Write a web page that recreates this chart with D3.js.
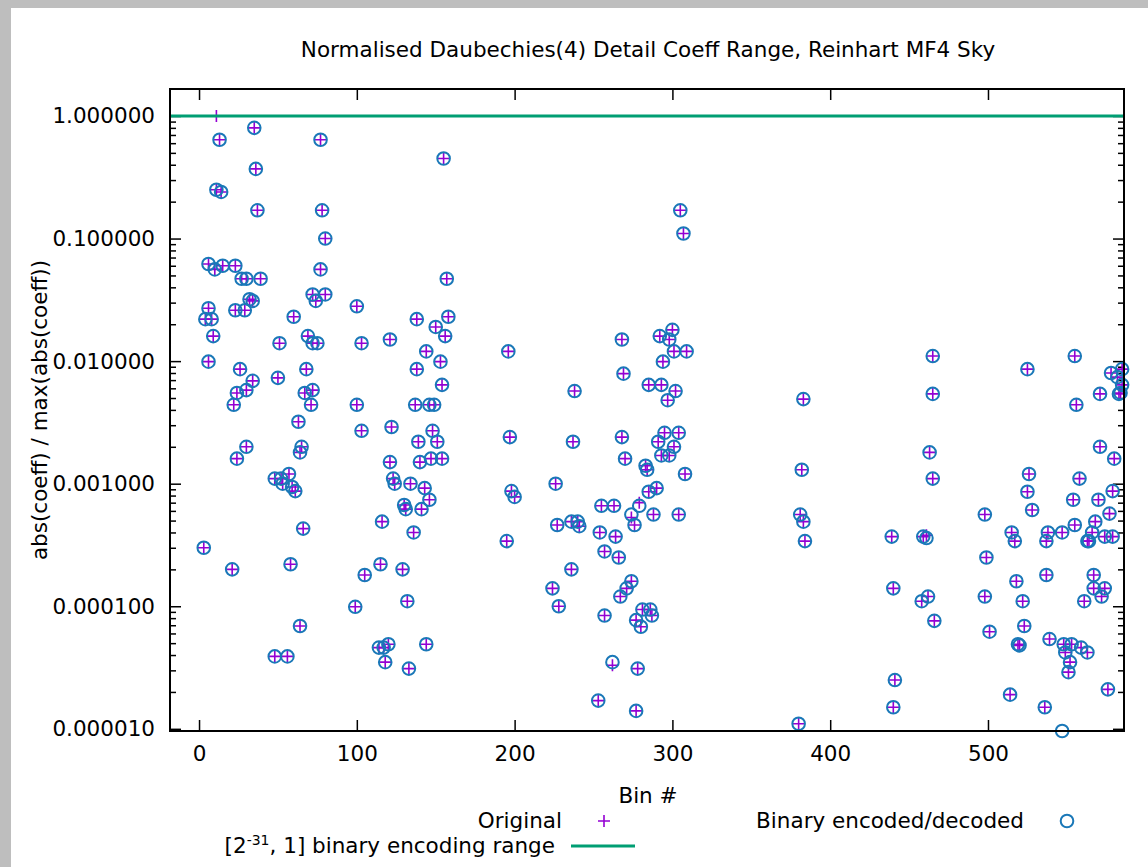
<!DOCTYPE html>
<html>
<head>
<meta charset="utf-8">
<script src="https://d3js.org/d3.v7.min.js"></script>
<style>
  body { margin: 0; background: #bebebe; }
  text { font-family: "DejaVu Sans", sans-serif; fill: #000; }
</style>
</head>
<body>
<svg id="chart" width="1148" height="867"></svg>
<script>
const bins = [
  11, 35, 13, 77, 36, 11, 14, 37, 78, 80, 6, 10, 15, 23, 27, 30, 39, 77, 32, 34,
  72, 74, 80, 6, 23, 29, 60, 4, 8, 9, 51, 69, 72, 75, 6, 26, 50, 68, 34, 24,
  30, 67, 72, 22, 71, 63, 30, 24, 65, 64, 48, 52, 53, 57, 59, 61, 66, 3, 21, 58,
  64, 48, 56,
  100, 155, 157, 158, 138, 150, 156, 103, 121, 144, 153, 138, 154, 100, 137, 146, 149, 103, 122, 148,
  139, 151, 121, 140, 147, 154, 123, 124, 134, 143, 146, 130, 131, 141, 116, 136, 115, 105, 129, 99,
  132, 114, 117, 120, 144, 118, 133,
  196, 197, 198, 200, 195, 305, 307, 300, 268, 292, 298, 301, 309, 294, 269, 285, 293, 302, 238, 297,
  237, 268, 295, 304, 291, 301, 270, 293, 298, 283, 284, 308, 226, 285, 290, 255, 263, 279, 274, 288,
  304, 227, 236, 240, 241, 276, 254, 264, 257, 266, 236, 224, 228, 274, 271, 267, 257, 281, 286, 287,
  277, 280, 262, 278, 253, 277,
  465, 465, 383, 463, 465, 382, 381, 383, 384, 439, 459, 461, 440, 458, 462, 466, 441, 440, 380,
  555, 525, 578, 585, 582, 585, 571, 583, 584, 556, 571, 580, 526, 558, 525, 579, 554, 570, 528, 577,
  498, 568, 555, 515, 517, 538, 537, 547, 566, 563, 564, 574, 579, 499, 537, 567, 518, 567, 574, 572,
  522, 561, 498, 523, 501, 539, 519, 520, 548, 553, 559, 563, 549, 552, 551, 576, 514, 536, 547
];

// abs(coeff)/max(abs(coeff)), original values
const original = [
  1.0, 0.80, 0.64, 0.64, 0.37, 0.25, 0.24, 0.17, 0.17, 0.10, 0.062, 0.056, 0.060, 0.060, 0.047, 0.047, 0.047, 0.056, 0.032, 0.031,
  0.035, 0.031, 0.035, 0.027, 0.026, 0.026, 0.023, 0.022, 0.022, 0.016, 0.014, 0.016, 0.014, 0.014, 0.0099, 0.0086, 0.0073, 0.0086, 0.0069, 0.0055,
  0.0058, 0.0055, 0.0058, 0.0044, 0.0044, 0.0032, 0.0020, 0.0016, 0.0020, 0.0018, 0.0011, 0.0011, 0.0010, 0.0012, 0.00094, 0.00087, 0.00043, 0.00030, 0.00020, 0.00022,
  0.000069, 0.000039, 0.000039,
  0.028, 0.45, 0.047, 0.023, 0.022, 0.019, 0.016, 0.014, 0.015, 0.012, 0.0099, 0.0086, 0.0064, 0.0044, 0.0044, 0.0044, 0.0044, 0.0027, 0.0029, 0.0027,
  0.0022, 0.0022, 0.0015, 0.0015, 0.0016, 0.0016, 0.0011, 0.0010, 0.0010, 0.00092, 0.00074, 0.00067, 0.00062, 0.00062, 0.00049, 0.00040, 0.00022, 0.00018, 0.00020, 0.000099,
  0.00011, 0.000046, 0.000046, 0.000049, 0.000049, 0.000035, 0.000031,
  0.012, 0.0024, 0.00087, 0.00078, 0.00034, 0.17, 0.11, 0.018, 0.015, 0.016, 0.015, 0.012, 0.012, 0.0099, 0.0079, 0.0064, 0.0064, 0.0057, 0.0057, 0.0048,
  0.0022, 0.0024, 0.0026, 0.0026, 0.0022, 0.0020, 0.0016, 0.0017, 0.0017, 0.0014, 0.0013, 0.0012, 0.0010, 0.00086, 0.00092, 0.00066, 0.00066, 0.00070, 0.00053, 0.00056,
  0.00056, 0.00046, 0.00049, 0.00049, 0.00045, 0.00046, 0.00040, 0.00037, 0.00028, 0.00025, 0.00020, 0.00014, 0.00010, 0.00016, 0.00014, 0.00012, 0.000084, 0.000094, 0.000094, 0.000084,
  0.000077, 0.000068, 0.000033, 0.000031, 0.000017, 0.000014,
  0.011, 0.0054, 0.0049, 0.0018, 0.0011, 0.0013, 0.00056, 0.00049, 0.00034, 0.00037, 0.00037, 0.00038, 0.00014, 0.00011, 0.00012, 0.000076, 0.000025, 0.000015, 0.000011,
  0.011, 0.0086, 0.0080, 0.0086, 0.0074, 0.0064, 0.0054, 0.0054, 0.0055, 0.0044, 0.0020, 0.0016, 0.0012, 0.0011, 0.00086, 0.00087, 0.00074, 0.00074, 0.00061, 0.00057,
  0.00056, 0.00049, 0.00046, 0.00040, 0.00034, 0.00040, 0.00034, 0.00040, 0.00040, 0.00034, 0.00034, 0.00037, 0.00037, 0.00025, 0.00018, 0.00018, 0.00016, 0.00014, 0.00014, 0.00012,
  0.00011, 0.00011, 0.00012, 0.000069, 0.000062, 0.000054, 0.000049, 0.000048, 0.000049, 0.000049, 0.000046, 0.000042, 0.000042, 0.000035, 0.000029, 0.000021, 0.000019, 0.000015, null
];

// same coefficients after binary encoding/decoding
const encoded = [
  null, 0.80, 0.64, 0.64, 0.37, 0.25, 0.24, 0.17, 0.17, 0.10, 0.062, 0.056, 0.060, 0.060, 0.047, 0.047, 0.047, 0.056, 0.032, 0.031,
  0.035, 0.031, 0.035, 0.027, 0.026, 0.026, 0.023, 0.022, 0.022, 0.016, 0.014, 0.016, 0.014, 0.014, 0.0099, 0.0086, 0.0073, 0.0086, 0.0069, 0.0055,
  0.0058, 0.0055, 0.0058, 0.0044, 0.0044, 0.0032, 0.0020, 0.0016, 0.0020, 0.0018, 0.0011, 0.0011, 0.0010, 0.0012, 0.00094, 0.00087, 0.00043, 0.00030, 0.00020, 0.00022,
  0.000069, 0.000039, 0.000039,
  0.028, 0.45, 0.047, 0.023, 0.022, 0.019, 0.016, 0.014, 0.015, 0.012, 0.0099, 0.0086, 0.0064, 0.0044, 0.0044, 0.0044, 0.0044, 0.0027, 0.0029, 0.0027,
  0.0022, 0.0022, 0.0015, 0.0015, 0.0016, 0.0016, 0.0011, 0.0010, 0.0010, 0.00092, 0.00074, 0.00067, 0.00062, 0.00062, 0.00049, 0.00040, 0.00022, 0.00018, 0.00020, 0.000099,
  0.00011, 0.000046, 0.000046, 0.000049, 0.000049, 0.000035, 0.000031,
  0.012, 0.0024, 0.00087, 0.00078, 0.00034, 0.17, 0.11, 0.018, 0.015, 0.016, 0.015, 0.012, 0.012, 0.0099, 0.0079, 0.0064, 0.0064, 0.0057, 0.0057, 0.0048,
  0.0022, 0.0024, 0.0026, 0.0026, 0.0022, 0.0020, 0.0016, 0.0017, 0.0017, 0.0014, 0.0013, 0.0012, 0.0010, 0.00086, 0.00092, 0.00066, 0.00066, 0.00066, 0.00056, 0.00056,
  0.00056, 0.00046, 0.00049, 0.00049, 0.00045, 0.00046, 0.00040, 0.00037, 0.00028, 0.00025, 0.00020, 0.00014, 0.00010, 0.00016, 0.00014, 0.00012, 0.000084, 0.000094, 0.000094, 0.000084,
  0.000077, 0.000068, 0.000035, 0.000031, 0.000017, 0.000014,
  0.011, 0.0054, 0.0049, 0.0018, 0.0011, 0.0013, 0.00056, 0.00049, 0.00034, 0.00037, 0.00037, 0.00036, 0.00014, 0.00011, 0.00012, 0.000076, 0.000025, 0.000015, 0.000011,
  0.011, 0.0086, 0.0080, 0.0086, 0.0074, 0.0064, 0.0054, 0.0054, 0.0055, 0.0044, 0.0020, 0.0016, 0.0012, 0.0011, 0.00086, 0.00087, 0.00074, 0.00074, 0.00061, 0.00057,
  0.00056, 0.00049, 0.00046, 0.00040, 0.00034, 0.00040, 0.00034, 0.00040, 0.00040, 0.00034, 0.00034, 0.00037, 0.00037, 0.00025, 0.00018, 0.00018, 0.00016, 0.00014, 0.00014, 0.00012,
  0.00011, 0.00011, 0.00012, 0.000069, 0.000062, 0.000054, 0.000049, 0.000048, 0.000049, 0.000049, 0.000046, 0.000042, 0.000042, 0.000035, 0.000029, 0.000021, 0.000019, 0.000015, 0.0000096
];

const xTicks = [0, 100, 200, 300, 400, 500];
const yTicks = [1e-5, 1e-4, 1e-3, 1e-2, 1e-1, 1];
const rangeTop = 1;   // upper end of the [2^-31, 1] encoding range

const title = "Normalised Daubechies(4) Detail Coeff Range, Reinhart MF4 Sky";
const xLabel = "Bin #";
const yLabel = "abs(coeff) / max(abs(coeff))";

const purple = "#9400d3", blue = "#1a78b8", green = "#009e73";
const fs = 21.5;

var margin = { top: 89, right: 24, bottom: 136, left: 170 },
    width = 1148 - margin.left - margin.right,
    height = 867 - margin.top - margin.bottom;

let svg = d3.select("#chart");

// grey frame of the window, white canvas
svg.append("rect").attr("width", 1148).attr("height", 867).attr("fill", "#bebebe");
svg.append("rect").attr("x", 11).attr("y", 8).attr("width", 1137).attr("height", 859).attr("fill", "#fff");

let x = d3.scaleLinear().domain([-18.4, 586.2]).range([margin.left, margin.left + width]);
let y = d3.scaleLog().domain([9.6e-6, 1.66]).range([margin.top + height, margin.top]);

let minorY = [];
yTicks.slice(0, -1).forEach(d => { for (let m = 2; m <= 9; m++) minorY.push(d * m); });

function styleAxis(g) {
  g.select(".domain").remove();
  g.selectAll("line").attr("stroke", "#000").attr("stroke-width", 1.5);
  g.selectAll("text").attr("font-size", fs).attr("font-family", "DejaVu Sans");
}

// left axis: major + minor ticks pointing inward
svg.append("g").attr("transform", `translate(${margin.left},0)`)
  .call(d3.axisLeft(y).tickValues(yTicks).tickFormat(d3.format(".6f")).tickSize(-11).tickPadding(15))
  .call(styleAxis);
svg.append("g").attr("transform", `translate(${margin.left},0)`)
  .call(d3.axisLeft(y).tickValues(minorY).tickFormat("").tickSize(-6))
  .call(styleAxis);
// right mirror
svg.append("g").attr("transform", `translate(${margin.left + width},0)`)
  .call(d3.axisRight(y).tickValues(yTicks).tickFormat("").tickSize(-11))
  .call(styleAxis);
svg.append("g").attr("transform", `translate(${margin.left + width},0)`)
  .call(d3.axisRight(y).tickValues(minorY).tickFormat("").tickSize(-6))
  .call(styleAxis);
// bottom axis + top mirror
svg.append("g").attr("transform", `translate(0,${margin.top + height})`)
  .call(d3.axisBottom(x).tickValues(xTicks).tickSize(-11).tickPadding(15))
  .call(styleAxis);
svg.append("g").attr("transform", `translate(0,${margin.top})`)
  .call(d3.axisTop(x).tickValues(xTicks).tickFormat("").tickSize(-11))
  .call(styleAxis);

let pts = bins.map((b, i) => ({ bin: b, orig: original[i], enc: encoded[i] }));

// Original: plus markers
svg.append("g")
  .selectAll("path")
  .data(pts.filter(d => d.orig !== null))
  .enter()
  .append("path")
  .attr("transform", d => `translate(${x(d.bin)},${y(d.orig)})`)
  .attr("d", "M-6,0H6M0,-6V6")
  .attr("stroke", purple)
  .attr("stroke-width", 1.6)
  .attr("fill", "none");

// Binary encoded/decoded: open circles
svg.append("g")
  .selectAll("circle")
  .data(pts.filter(d => d.enc !== null))
  .enter()
  .append("circle")
  .attr("cx", d => x(d.bin))
  .attr("cy", d => y(d.enc))
  .attr("r", 6.3)
  .attr("fill", "none")
  .attr("stroke", blue)
  .attr("stroke-width", 2);

// encoding range upper limit
svg.append("line")
  .attr("x1", margin.left).attr("x2", margin.left + width)
  .attr("y1", y(rangeTop)).attr("y2", y(rangeTop))
  .attr("stroke", green).attr("stroke-width", 3);

// frame
svg.append("rect")
  .attr("x", margin.left).attr("y", margin.top)
  .attr("width", width).attr("height", height)
  .attr("fill", "none").attr("stroke", "#000").attr("stroke-width", 2);

// titles
svg.append("text").attr("x", 648).attr("y", 57)
  .attr("text-anchor", "middle").attr("font-size", fs).text(title);
svg.append("text").attr("x", 648).attr("y", 803)
  .attr("text-anchor", "middle").attr("font-size", fs).text(xLabel);
svg.append("text")
  .attr("transform", "translate(47,410) rotate(-90)")
  .attr("text-anchor", "middle").attr("font-size", fs).text(yLabel);

// legend
let key = svg.append("g").attr("font-size", fs);
key.append("text").attr("x", 562).attr("y", 828).attr("text-anchor", "end").text("Original");
key.append("path").attr("transform", "translate(604,821)").attr("d", "M-6,0H6M0,-6V6")
  .attr("stroke", purple).attr("stroke-width", 1.6);
key.append("text").attr("x", 1024).attr("y", 828).attr("text-anchor", "end").text("Binary encoded/decoded");
key.append("circle").attr("cx", 1067).attr("cy", 821).attr("r", 6.3)
  .attr("fill", "none").attr("stroke", blue).attr("stroke-width", 2);

let rangeText = key.append("text").attr("x", 555).attr("y", 853).attr("text-anchor", "end");
rangeText.append("tspan").text("[2");
rangeText.append("tspan").attr("font-size", 14).attr("dy", -8).text("-31");
rangeText.append("tspan").attr("dy", 8).text(", 1] binary encoding range");
key.append("line").attr("x1", 571).attr("x2", 635).attr("y1", 846).attr("y2", 846)
  .attr("stroke", green).attr("stroke-width", 3);
</script>
</body>
</html>
